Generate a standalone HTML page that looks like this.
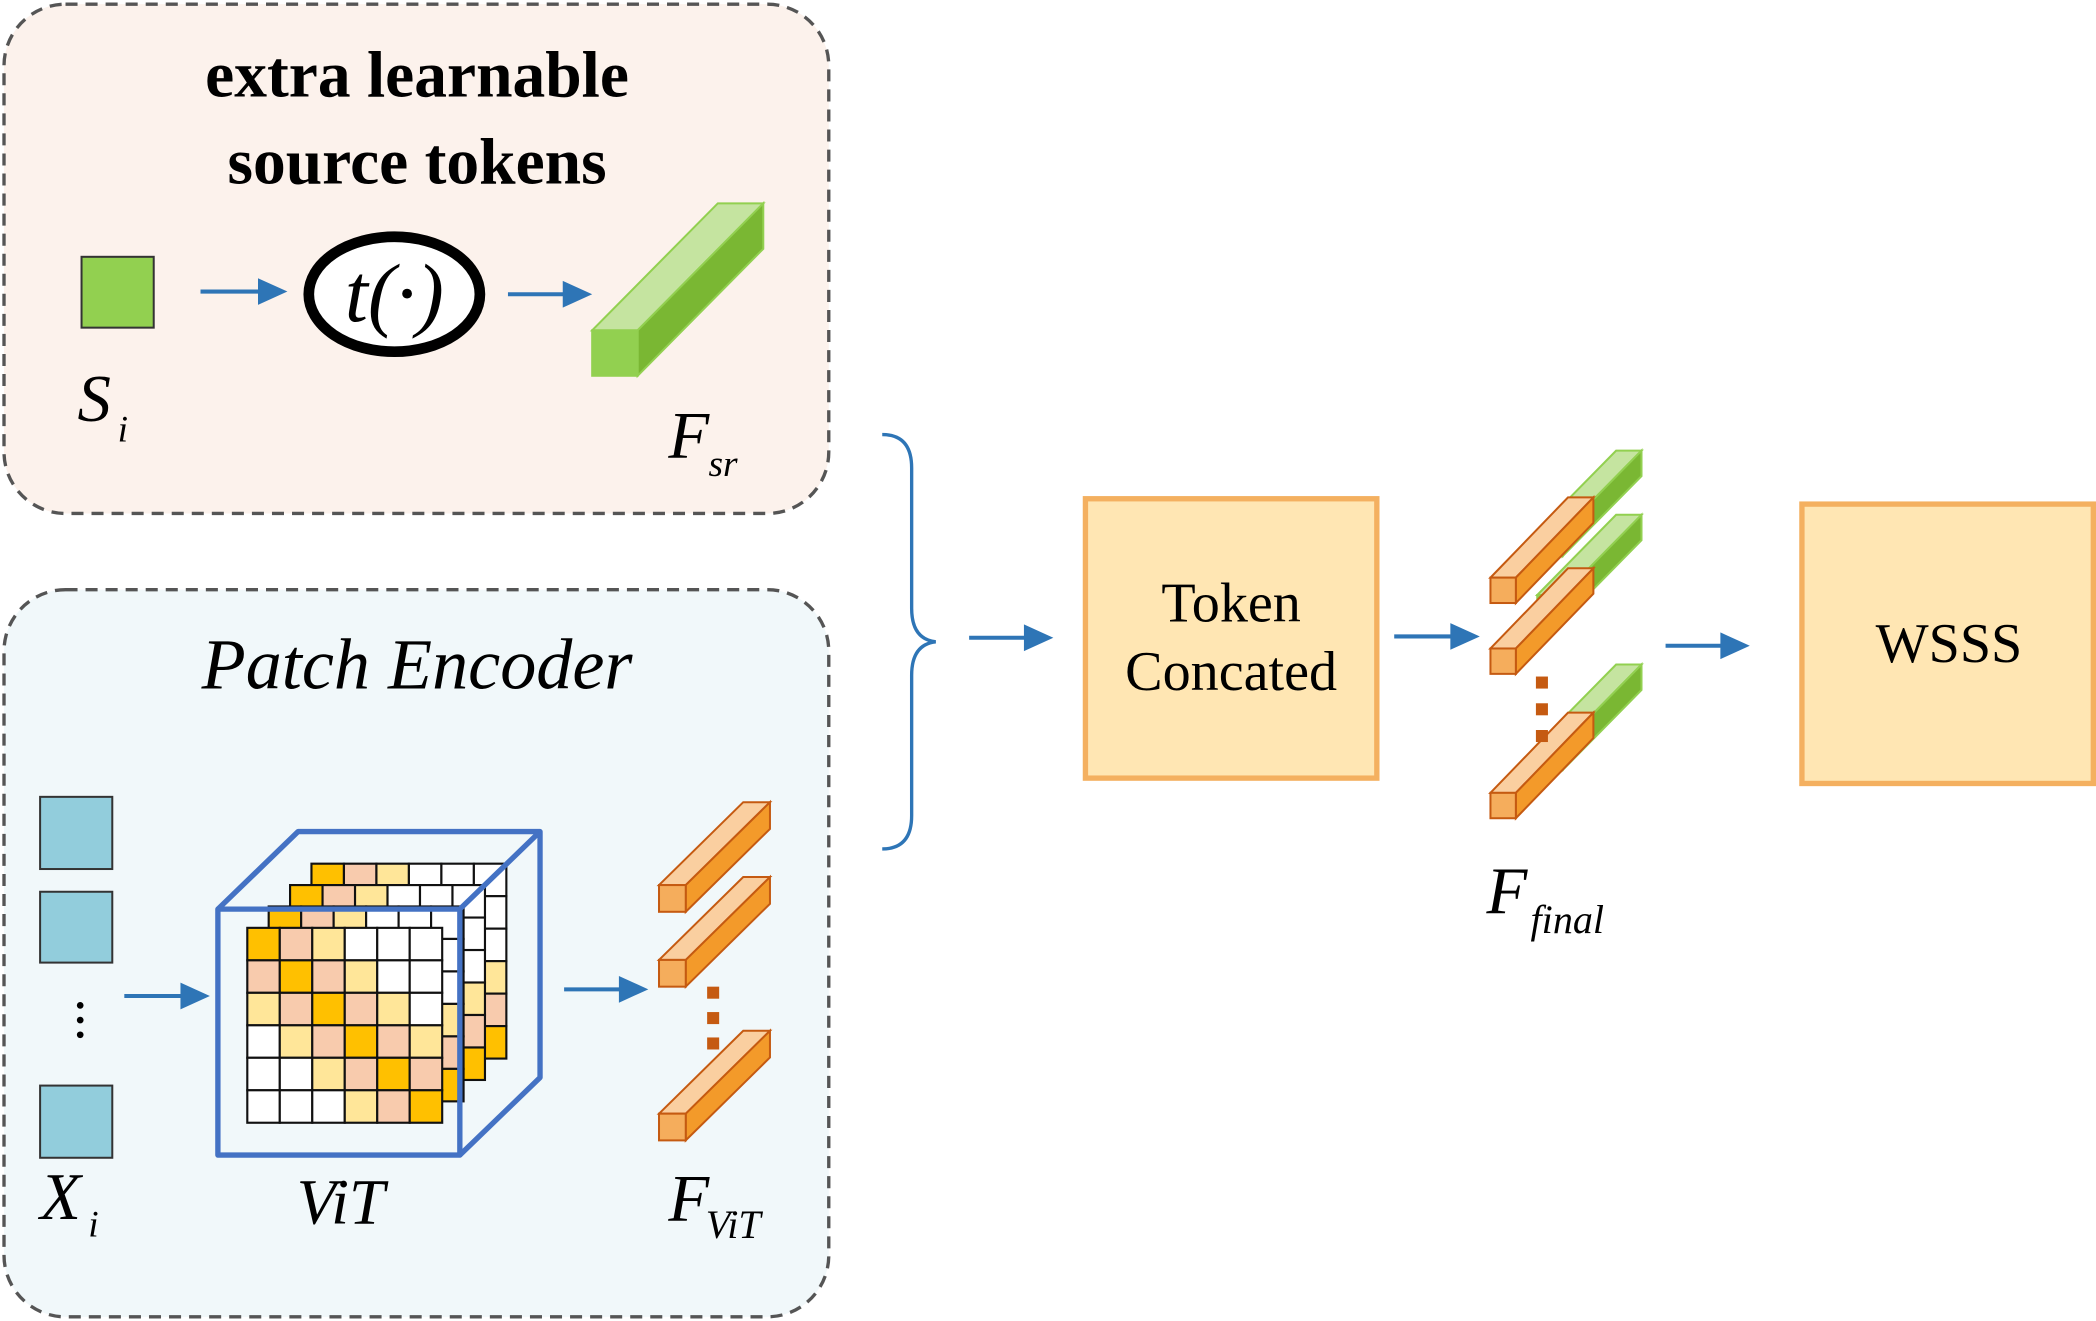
<!DOCTYPE html>
<html><head><meta charset="utf-8"><style>html,body{margin:0;padding:0;background:#fff}svg{display:block}</style></head>
<body>
<svg id="s" xmlns="http://www.w3.org/2000/svg" width="2096" height="1321" viewBox="0 0 1568 988" font-family="Liberation Serif, serif">
<rect x="3" y="3" width="617" height="381" rx="46" fill="#FCF2EC" stroke="#555" stroke-width="2.5" stroke-dasharray="9,6"/>
<rect x="3" y="441" width="617" height="544" rx="46" fill="#F1F8FA" stroke="#555" stroke-width="2.5" stroke-dasharray="9,6"/>
<text x="312" y="72" font-size="49" font-weight="bold" text-anchor="middle">extra learnable</text>
<text x="312" y="137" font-size="49" font-weight="bold" text-anchor="middle">source tokens</text>
<text x="312" y="515" font-size="54" font-style="italic" text-anchor="middle">Patch Encoder</text>
<rect x="61" y="192" width="54" height="53" fill="#92D050" stroke="#333" stroke-width="1.5"/>
<ellipse cx="295" cy="220" rx="64" ry="43" fill="#fff" stroke="#000" stroke-width="8"/>
<text x="295" y="240" font-size="62" font-style="italic" text-anchor="middle">t(·)</text>
<text x="58" y="315" font-size="50" font-style="italic">S</text><text x="88" y="330" font-size="28" font-style="italic">i</text>
<text x="500" y="342" font-size="50" font-style="italic">F</text><text x="530" y="356" font-size="28" font-style="italic">sr</text>
<text x="30" y="912" font-size="50" font-style="italic">X</text><text x="66" y="925" font-size="28" font-style="italic">i</text>
<text x="222" y="915" font-size="48" font-style="italic">ViT</text>
<text x="500" y="913" font-size="50" font-style="italic">F</text><text x="528" y="926" font-size="30" font-style="italic">ViT</text>
<text x="1112" y="683" font-size="50" font-style="italic">F</text><text x="1145" y="698" font-size="30" font-style="italic">final</text>
<rect x="30" y="596" width="54" height="54" fill="#92CDDC" stroke="#333" stroke-width="1.5"/>
<rect x="30" y="667" width="54" height="53" fill="#92CDDC" stroke="#333" stroke-width="1.5"/>
<rect x="30" y="812" width="54" height="54" fill="#92CDDC" stroke="#333" stroke-width="1.5"/>
<circle cx="60" cy="752" r="2.5"/><circle cx="60" cy="763" r="2.5"/><circle cx="60" cy="774" r="2.5"/>
<g id="grids"></g>
<g fill="none" stroke="#4472C4" stroke-width="4" stroke-linejoin="round">
<path d="M163,680 L223,622 L404,622 L404,806 L344,864 M344,680 L404,622"/>
<rect x="163" y="680" width="181" height="184"/>
</g>
<path d="M660,325 Q682,325 682,350 L682,455 Q682,478 700,480 Q682,482 682,505 L682,610 Q682,635 660,635" fill="none" stroke="#2E75B6" stroke-width="2.5"/>
<rect x="812" y="373" width="218" height="209" fill="#FFE6B3" stroke="#F4B060" stroke-width="4"/>
<text x="921" y="465" font-size="42" text-anchor="middle">Token</text>
<text x="921" y="516" font-size="42" text-anchor="middle">Concated</text>
<rect x="1348" y="377" width="218" height="209" fill="#FFE6B3" stroke="#F4B060" stroke-width="4"/>
<text x="1458" y="495" font-size="42" text-anchor="middle">WSSS</text>
<g id="bars"></g>
<g id="arrows"></g>
</svg>
<script>
var NS="http://www.w3.org/2000/svg";
function el(p,t,a){var e=document.createElementNS(NS,t);for(var k in a)e.setAttribute(k,a[k]);document.getElementById(p).appendChild(e);return e;}
var C={Y:"#FFC000",P:"#F8CBAD",L:"#FFE699",W:"#FFFFFF"};
var pat=["YPLWWW","PYPLWW","LPYPLW","WLPYPL","WWLPYP","WWWLPY"];
var cs=24.3;
for(var l=3;l>=0;l--){var ox=185+16*l,oy=694-16*l;
for(var r=0;r<6;r++)for(var c=0;c<6;c++)el("grids","rect",{x:ox+c*cs,y:oy+r*cs,width:cs,height:cs,fill:C[pat[r][c]],stroke:"#111","stroke-width":1.6});}
function bar(x,y,s,dx,dy,f,t,rt,st){
 el("bars","polygon",{points:[x,y,x+dx,y+dy,x+s+dx,y+dy,x+s,y].join(","),fill:t,stroke:st,"stroke-width":1.5});
 el("bars","polygon",{points:[x+s,y,x+s+dx,y+dy,x+s+dx,y+s+dy,x+s,y+s].join(","),fill:rt,stroke:st,"stroke-width":1.5});
 el("bars","rect",{x:x,y:y,width:s,height:s,fill:f,stroke:st,"stroke-width":1.5});}
var O=["#F5AD5C","#FACFA0","#F39A2A","#C55A11"],G=["#92D050","#C5E4A0","#7AB733","#92D050"];
function ob(x,y,s,dx,dy){bar(x,y,s,dx,dy,O[0],O[1],O[2],O[3]);}
function gb(x,y,s,dx,dy){bar(x,y,s,dx,dy,G[0],G[1],G[2],G[3]);}
gb(443,247,34,94,-95);
ob(493,662,20,63,-62);ob(493,718,20,63,-62);ob(493,833,20,63,-62);
[738,757,776].forEach(function(y){el("bars","rect",{x:529,y:y,width:9,height:9,fill:"#C55A11"});});
[[432,337],[485,385],[593,497]].forEach(function(p){gb(1150,p[1]+60,19,59,-60);ob(1115,p[0],19,58,-60);});
[506,526,546].forEach(function(y){el("bars","rect",{x:1149,y:y,width:9,height:9,fill:"#C55A11"});});
function arr(x1,y,x2){el("arrows","line",{x1:x1,y1:y,x2:x2-18,y2:y,stroke:"#2E75B6","stroke-width":3});
 el("arrows","polygon",{points:[x2,y,x2-22,y-10,x2-22,y+10].join(","),fill:"#2E75B6"});}
arr(150,218,215);arr(380,220,443);arr(93,745,157);arr(422,740,485);arr(725,477,788);arr(1043,476,1107);arr(1246,483,1309);
</script>
</body></html>
